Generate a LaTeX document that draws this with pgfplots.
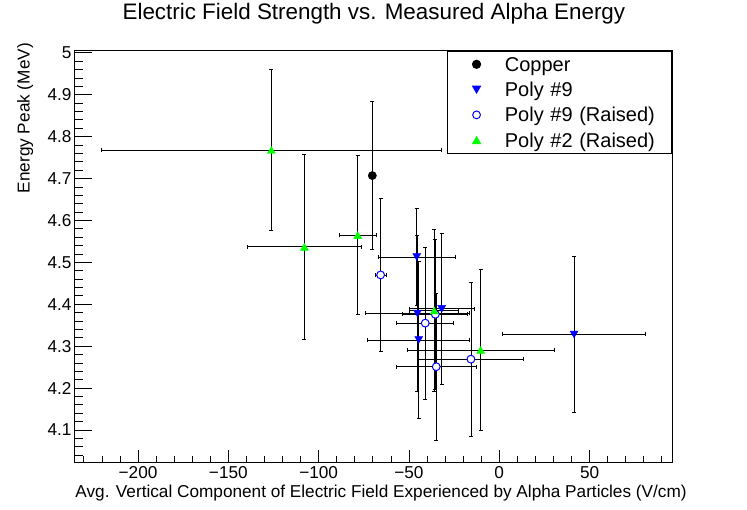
\documentclass[border=0pt]{standalone}
\usepackage{pgfplots}
\pgfplotsset{compat=1.18}
\usepackage{fontspec}
\setmainfont{Liberation Sans}
\definecolor{rblue}{RGB}{0,0,255}
\definecolor{rgreen}{RGB}{0,255,0}
\begin{document}
\begin{tikzpicture}
\useasboundingbox (0pt,0pt) rectangle (747pt,510pt);
\begin{axis}[
  at={(74.3pt,47.7pt)}, anchor=south west,
  scale only axis, width=598pt, height=411.6pt,
  xmin=-235.3, xmax=95.8, ymin=4.023, ymax=5.005,
  axis line style={line width=0.9pt, black},
  tick align=inside,
  xtick pos=left, ytick pos=left,
  xtick={-200,-150,-100,-50,0,50},
  xticklabels={−200,−150,−100,−50,0,50},
  ytick={4.1,4.2,4.3,4.4,4.5,4.6,4.7,4.8,4.9,5},
  yticklabels={4.1,4.2,4.3,4.4,4.5,4.6,4.7,4.8,4.9,5},
  minor xtick={-230,-220,-210,-190,-180,-170,-160,-140,-130,-120,-110,-90,-80,-70,-60,-40,-30,-20,-10,10,20,30,40,60,70,80,90},
  minor ytick={4.04,4.06,4.08,4.12,4.14,4.16,4.18,4.22,4.24,4.26,4.28,4.32,4.34,4.36,4.38,4.42,4.44,4.46,4.48,4.52,4.54,4.56,4.58,4.62,4.64,4.66,4.68,4.72,4.74,4.76,4.78,4.82,4.84,4.86,4.88,4.92,4.94,4.96,4.98},
  every major x tick/.append style={/pgfplots/major tick length=12.3pt, line width=0.8pt, black},
  every minor x tick/.append style={/pgfplots/minor tick length=6.2pt, line width=0.8pt, black},
  every major y tick/.append style={/pgfplots/major tick length=18pt, line width=0.8pt, black},
  every minor y tick/.append style={/pgfplots/minor tick length=9pt, line width=0.8pt, black},
  xticklabel style={font=\fontsize{17.2}{19}\selectfont, inner sep=0pt, anchor=north, yshift=-3.8pt},
  yticklabel style={font=\fontsize{17.2}{19}\selectfont, inner sep=0pt, anchor=east, xshift=-2.6pt},
  title={Electric Field Strength vs. Measured Alpha Energy},
  title style={at={(axis description cs:0.501,1.0624)}, anchor=base, font=\fontsize{22.4}{24}\selectfont, inner sep=0pt},
  xlabel={Avg. Vertical Component of Electric Field Experienced by Alpha Particles (V/cm)},
  xlabel style={at={(axis description cs:0.513,-0.0867)}, anchor=base, font=\fontsize{17.2}{19}\selectfont, inner sep=0pt},
  ylabel={Energy Peak (MeV)},
  ylabel style={at={(axis description cs:-0.0749,1.0187)}, rotate=0, anchor=base east, font=\fontsize{17.2}{19}\selectfont, inner sep=0pt},
  error bars/x dir=both, error bars/x explicit,
  error bars/y dir=both, error bars/y explicit,
  error bars/error bar style={line width=0.8pt, black},
  error bars/error mark options={rotate=90, black, mark size=2pt, line width=0.8pt},
  legend cell align=left,
  legend style={at={(1,1)}, anchor=north east, draw=black, line width=0.9pt, fill=white,
    inner xsep=0pt, inner ysep=0.5pt, row sep=0pt, column sep=0pt,
    font=\fontsize{20}{22}\selectfont,
    nodes={draw=none, text width=167pt, align=left, inner sep=0pt, anchor=base west, yshift=-7pt}},
  legend image code/.code={\path[draw=none, fill=none] (-29.4pt,-12.65pt) rectangle (28.3pt,12.65pt); \draw[#1] plot coordinates {(0pt,0pt)};},
]
\addplot[only marks, mark=*, mark size=4.15pt, mark options={fill=black, draw=black}]
  coordinates {(-70.3,4.707) +- (0,0.176)};
\addlegendentry{Copper}
\addplot[only marks, mark=triangle*, mark size=4.6pt, mark options={fill=rblue, draw=rblue, yshift=1.15pt, rotate=180}]
  coordinates {
  (-45.7,4.513) +- (21.4,0.116)
  (-45.3,4.378) +- (28.6,0.187)
  (-44.6,4.315) +- (28.3,0.188)
  (-31.9,4.389) +- (17.9,0.181)
  (41.4,4.328) +- (39.4,0.186)
  };
\addlegendentry{Poly \#9}
\addplot[only marks, mark=*, mark size=3.9pt, mark options={fill=white, draw=rblue, line width=1pt}]
  coordinates {
  (-65.7,4.470) +- (3.1,0.183)
  (-41.0,4.355) +- (15.7,0.181)
  (-35.4,4.376) +- (18.0,0.179)
  (-34.9,4.251) +- (22.2,0.176)
  (-15.7,4.269) +- (29.3,0.184)
  };
\addlegendentry{Poly \#9 (Raised)}
\addplot[only marks, mark=triangle*, mark size=4.6pt, mark options={fill=rgreen, draw=rgreen, yshift=-1.15pt}]
  coordinates {
  (-126.2,4.768) +- (94.0,0.192)
  (-107.9,4.537) +- (31.7,0.220)
  (-78.4,4.565) +- (10.3,0.190)
  (-36.0,4.385) +- (13.5,0.194)
  (-10.3,4.291) +- (40.6,0.192)
  };
\addlegendentry{Poly \#2 (Raised)}
\end{axis}
\end{tikzpicture}
\end{document}
